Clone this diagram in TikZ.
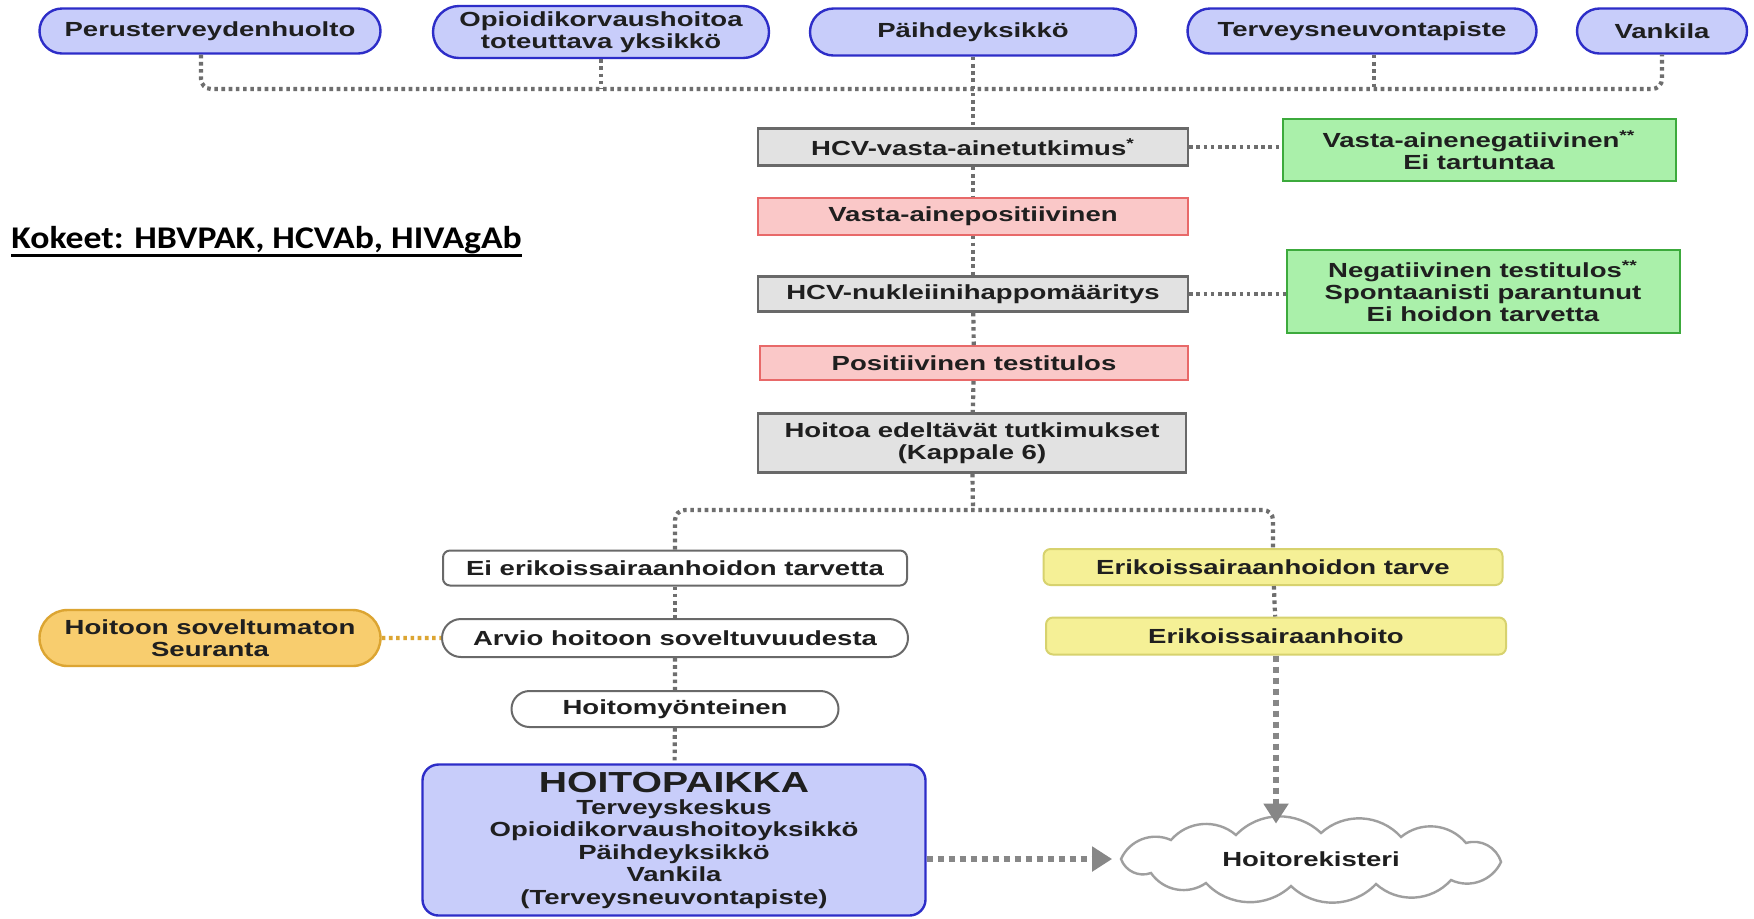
\documentclass[tikz,border=0pt]{standalone}
\usepackage{fontspec}
\setmainfont{Liberation Sans}[FakeStretch=1.35]
\newfontfamily\kokfont{Carlito}[FakeStretch=1.13]
\usepackage{tikz}
\usetikzlibrary{positioning, calc}
\usetikzlibrary{shapes.misc, arrows.meta}

\definecolor{pillfill}{RGB}{200,205,250}
\definecolor{pillline}{RGB}{45,45,200}
\definecolor{grayfill}{RGB}{226,226,226}
\definecolor{grayline}{RGB}{105,105,105}
\definecolor{redfill}{RGB}{250,200,200}
\definecolor{redline}{RGB}{232,105,105}
\definecolor{greenfill}{RGB}{170,240,170}
\definecolor{greenline}{RGB}{60,170,60}
\definecolor{yellowfill}{RGB}{245,240,150}
\definecolor{yellowline}{RGB}{215,210,110}
\definecolor{orangefill}{RGB}{248,205,110}
\definecolor{orangeline}{RGB}{220,165,50}
\definecolor{dotgray}{RGB}{110,110,110}
\definecolor{arrgray}{RGB}{135,135,135}

\tikzset{
  base/.style={font=\bfseries\fontsize{10.2}{10.8}\selectfont, align=center, inner sep=0pt, text=black!88},
  pill/.style={base, rounded rectangle, draw=pillline, fill=pillfill, line width=1.2pt},
  graybox/.style={base, rectangle, draw=grayline, fill=grayfill, line width=1.2pt},
  redbox/.style={base, rectangle, draw=redline, fill=redfill, line width=1pt},
  greenbox/.style={base, rectangle, draw=greenline, fill=greenfill, line width=1pt},
  whitebox/.style={base, rectangle, rounded corners=3.5pt, draw=grayline, fill=white, line width=1pt},
  whitepill/.style={base, rounded rectangle, draw=grayline, fill=white, line width=1pt},
  yellowbox/.style={base, rectangle, rounded corners=3.5pt, draw=yellowline, fill=yellowfill, line width=1pt},
  orangepill/.style={base, rounded rectangle, draw=orangeline, fill=orangefill, line width=1.2pt},
  placebox/.style={base, rectangle, rounded corners=8pt, draw=pillline, fill=pillfill, line width=1.2pt},
  cloudline/.style={draw=arrgray!80, fill=white, line width=1.2pt},
  conn/.style={draw=dotgray, line width=2.1pt, dash pattern=on 1.8pt off 1.8pt},
  bigconn/.style={draw=arrgray, line width=3pt, dash pattern=on 3pt off 2.5pt, -{Triangle[length=10pt,width=12pt]}},
}

\begin{document}
\begin{tikzpicture}[x=0.5pt, y=-0.5pt]
  \fill[white] (0,0) rectangle (1754,918);
  \useasboundingbox (0,0) rectangle (1754,918);

  \node[pill, minimum width=170.5pt, minimum height=22.5pt] (peru) at (210,31) {Perusterveydenhuolto};
  \node[pill, minimum width=168pt, minimum height=26pt] (opio) at (601,32) {Opioidikorvaushoitoa\\toteuttava yksikkö};
  \node[pill, minimum width=163pt, minimum height=23.5pt] (paih) at (973,32) {Päihdeyksikkö};
  \node[pill, minimum width=174.5pt, minimum height=22.5pt] (terv) at (1362,31) {Terveysneuvontapiste};
  \node[pill, minimum width=85pt, minimum height=22.5pt] (vank) at (1662,31) {Vankila};

  \node[graybox, minimum width=215pt, minimum height=18.5pt] (hcv) at (973,147) {HCV-vasta-ainetutkimus\textsuperscript{*}};
  \node[redbox, minimum width=215pt, minimum height=18.5pt] (vpos) at (973,216) {Vasta-ainepositiivinen};
  \node[graybox, minimum width=215pt, minimum height=17.5pt] (nuk) at (973,294) {HCV-nukleiinihappomääritys};
  \node[redbox, minimum width=214pt, minimum height=17pt] (ppos) at (974,363) {Positiivinen testitulos};
  \node[graybox, minimum width=214pt, minimum height=29.5pt] (hoed) at (972,443) {Hoitoa edeltävät tutkimukset\\(Kappale 6)};

  \node[greenbox, minimum width=196.5pt, minimum height=31pt] (vneg) at (1479,150) {Vasta-ainenegatiivinen\textsuperscript{**}\\Ei tartuntaa};
  \node[greenbox, minimum width=196.5pt, minimum height=41.5pt] (nneg) at (1483,291) {Negatiivinen testitulos\textsuperscript{**}\\Spontaanisti parantunut\\Ei hoidon tarvetta};

  \node[anchor=west, font=\kokfont\bfseries\fontsize{15.8}{18}\selectfont, inner sep=0pt] (kok) at (11,240) {Kokeet: HBVPAK, HCVAb, HIVAgAb};
  \draw[line width=1.4pt] ([yshift=-3.6pt]kok.base west) -- ([yshift=-3.6pt]kok.base east);

  \node[whitebox, minimum width=232pt, minimum height=17.5pt] (eiek) at (675,568) {Ei erikoissairaanhoidon tarvetta};
  \node[whitepill, minimum width=233pt, minimum height=19pt] (arvio) at (675,638) {Arvio hoitoon soveltuvuudesta};
  \node[whitepill, minimum width=163.5pt, minimum height=18pt] (hmy) at (675,709) {Hoitomyönteinen};
  \node[placebox, minimum width=251.5pt, minimum height=75.5pt, font=\bfseries\fontsize{10.2}{11.2}\selectfont] (hpaikka) at (674,840)
    {{\fontsize{14.5}{14}\selectfont HOITOPAIKKA}\\Terveyskeskus\\Opioidikorvaushoitoyksikkö\\Päihdeyksikkö\\Vankila\\(Terveysneuvontapiste)};
  \node[orangepill, minimum width=170.5pt, minimum height=28pt] (seur) at (210,638) {Hoitoon soveltumaton\\Seuranta};

  \node[yellowbox, minimum width=229.5pt, minimum height=18pt] (erik) at (1273,567) {Erikoissairaanhoidon tarve};
  \node[yellowbox, minimum width=230pt, minimum height=18.5pt] (erhoito) at (1276,636) {Erikoissairaanhoito};

  \begin{scope}[shift={(1311,859)}, y=0.5pt]
    \draw[cloudline] (-190,0) to[bend left=45] (-140,19) to[bend left=45] (-75,24) to[bend left=45] (10,26)
      to[bend left=45] (90,22) to[bend left=45] (155,16) to[bend left=45] (190,-3) to[bend left=45] (140,-21)
      to[bend left=45] (65,-25) to[bend left=45] (-20,-27) to[bend left=45] (-105,-24) to[bend left=45] (-160,-14)
      to[bend left=45] (-190,0) -- cycle;
  \end{scope}
  \node[base, minimum width=198.5pt, minimum height=35pt] (rek) at (1311,859) {Hoitorekisteri};

  \coordinate (bus) at (973,89);
  \coordinate (split) at (973,510);
  \draw[conn, rounded corners=5pt] ([xshift=-4.5pt]peru.south) |- (bus) -| (vank.south);
  \draw[conn] (opio.south) -- (opio.south |- bus);
  \draw[conn] ([xshift=6pt]terv.south) -- ([xshift=6pt]terv.south |- bus);
  \draw[conn] (paih.south) -- (hcv.north);
  \draw[conn] (hcv) -- (vpos);
  \draw[conn] (vpos) -- (nuk);
  \draw[conn] (nuk) -- (ppos);
  \draw[conn] (ppos) -- (hoed);
  \draw[conn] (hcv.east) -- (hcv.east -| vneg.west);
  \draw[conn] (nuk.east) -- (nuk.east -| nneg.west);
  \draw[conn] (hoed) -- (split);
  \draw[conn, rounded corners=5pt] (eiek.north) |- (split) -| (erik.north);
  \draw[conn] (eiek) -- (arvio);
  \draw[conn] (arvio) -- (hmy);
  \draw[conn] (hmy) -- (hpaikka);
  \draw[conn, draw=orangeline] (seur) -- (arvio);
  \draw[conn] (erik) -- (erhoito);
  \draw[bigconn] (erhoito) -- (erhoito |- rek.north);
  \draw[bigconn] (hpaikka.east |- rek.west) -- (rek.west);
\end{tikzpicture}
\end{document}
